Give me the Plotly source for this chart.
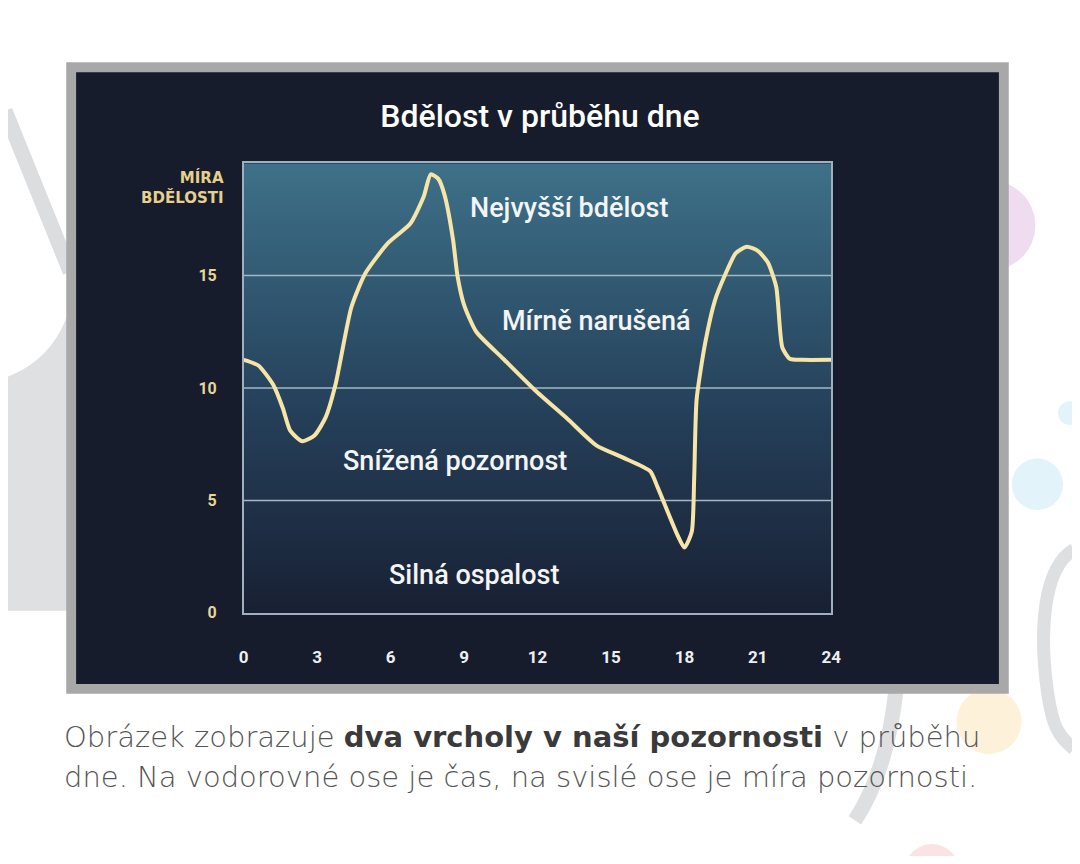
import plotly.graph_objects as go

# stránka má okraj 8 px ze všech stran, obrázek je proto menší a posunutý
OFF = 8
W, H = 1080 - 2 * OFF, 864 - 2 * OFF

# hodnoty (hodina dne, míra bdělosti)
hours = [0.0, 0.6, 1.2, 1.6, 1.9, 2.4, 2.9, 3.35, 3.75, 4.4, 4.97, 5.9, 6.8, 7.35,
         7.64, 7.95, 8.2, 8.55, 8.73, 9.0, 9.5, 10.6, 11.9, 13.2, 14.4, 15.5, 16.6,
         16.9, 17.7, 18.0, 18.3, 18.4, 18.5, 18.85, 19.25, 19.65, 20.1, 20.55, 21.0,
         21.4, 21.75, 22.0, 22.3, 22.8, 24.0]
alertness = [11.25, 11.0, 10.15, 9.1, 8.1, 7.63, 7.9, 8.7, 10.15, 13.6, 15.1, 16.45,
             17.3, 18.5, 19.5, 19.3, 18.6, 16.6, 15.0, 13.7, 12.5, 11.3, 9.9, 8.65,
             7.45, 6.9, 6.3, 5.6, 3.5, 2.9, 3.6, 6.0, 9.5, 12.0, 13.9, 15.0, 16.0,
             16.28, 16.1, 15.6, 14.5, 11.8, 11.3, 11.25, 11.25]

x_ticks = [0, 3, 6, 9, 12, 15, 18, 21, 24]
y_ticks = [0, 5, 10, 15]

zones = ["Nejvyšší bdělost", "Mírně narušená", "Snížená pozornost", "Silná ospalost"]
zone_x = [13.3, 14.4, 8.65, 9.4]
zone_y = [18.0, 13.0, 6.75, 1.7]


def px(x, y):
    # pixel z předlohy -> souřadnice papíru
    return (x - OFF) / W, 1 - (y - OFF) / H


def pt(x, y):
    a, b = px(x, y)
    return f"{a:.5f},{b:.5f}"


fig = go.Figure()

# pozadí grafu s přechodem
fig.add_trace(go.Scatter(
    x=[0, 24, 24, 0, 0], y=[0, 0, 20, 20, 0], mode="lines", fill="toself",
    line=dict(width=0),
    fillgradient=dict(type="vertical",
                      colorscale=[[0, "#182033"], [0.45, "#25405a"], [1, "#3e7189"]]),
    hoverinfo="skip", showlegend=False))

# mřížka
for v in y_ticks[1:]:
    fig.add_trace(go.Scatter(x=[x_ticks[0], x_ticks[-1]], y=[v, v], mode="lines",
                             line=dict(color="#a3b8c6", width=1.5),
                             hoverinfo="skip", showlegend=False))

fig.add_trace(go.Scatter(x=hours, y=alertness, mode="lines",
                         line=dict(color="#f6e5a6", width=4, shape="spline", smoothing=0.6),
                         showlegend=False))

for t, zx, zy in zip(zones, zone_x, zone_y):
    fig.add_annotation(x=zx, y=zy, text=t, showarrow=False,
                       font=dict(family="Roboto", size=27, color="#f2f4f6", weight=500))

shapes = []
# dekorace na bílém pozadí
shapes.append(dict(type="path", xref="paper", yref="paper", layer="below",
                   path=f"M {pt(70, 290)} Q {pt(60, 360)} {pt(0, 382)} L {pt(0, 618)} "
                        f"L {pt(70, 618)} Z",
                   fillcolor="#dfe0e2", line=dict(width=0)))
shapes.append(dict(type="path", xref="paper", yref="paper", layer="below",
                   path=f"M {pt(0, 112)} L {pt(66, 275)}",
                   line=dict(color="#dcdddf", width=15)))
shapes.append(dict(type="path", xref="paper", yref="paper", layer="below",
                   path=f"M {pt(1084, 556)} C {pt(1052, 575)} {pt(1050, 640)} {pt(1056, 690)} "
                        f"S {pt(1070, 745)} {pt(1084, 758)}",
                   line=dict(color="#dedfe0", width=13)))
shapes.append(dict(type="path", xref="paper", yref="paper", layer="below",
                   path=f"M {pt(904, 695)} Q {pt(895, 780)} {pt(862, 830)}",
                   line=dict(color="#dedfe0", width=15)))
for cx, cy, rad, col in [(1000, 228, 45, "#efdcf0"), (1047, 490, 26, "#e3f3fa"),
                         (1080, 418, 12, "#e3f3fa"), (998, 730, 33, "#fdf1d9"),
                         (940, 882, 28, "#fbe3e3")]:
    a0, b0 = px(cx - rad, cy + rad)
    a1, b1 = px(cx + rad, cy - rad)
    shapes.append(dict(type="circle", xref="paper", yref="paper", layer="below",
                       x0=a0, x1=a1, y0=b0, y1=b1, fillcolor=col, line=dict(width=0)))

# rámeček panelu
a0, b0 = px(62, 702)
a1, b1 = px(1018, 63)
shapes.append(dict(type="rect", xref="paper", yref="paper", layer="below",
                   x0=a0, x1=a1, y0=b0, y1=b1, fillcolor="#a8a8a8", line=dict(width=0)))
a0, b0 = px(72, 692)
a1, b1 = px(1008, 73)
shapes.append(dict(type="rect", xref="paper", yref="paper", layer="below",
                   x0=a0, x1=a1, y0=b0, y1=b1, fillcolor="#161c2b", line=dict(width=0)))

a, b = px(224, 168)
fig.add_annotation(xref="paper", yref="paper", x=a, y=b,
                   xanchor="right", yanchor="top", align="right", showarrow=False,
                   text="MÍRA<br>BDĚLOSTI",
                   font=dict(family="DejaVu Sans", size=15, color="#e6d08e", weight=700))

caption = ["Obrázek zobrazuje <b><span style='color:#3a3a3a'>dva vrcholy v naší pozornosti"
           "</span></b> v průběhu",
           "dne. Na vodorovné ose je čas, na svislé ose je míra pozornosti."]
for line, cy in zip(caption, [746, 786]):
    a, b = px(58, cy)
    fig.add_annotation(xref="paper", yref="paper", x=a, y=b,
                       xanchor="left", yanchor="middle", align="left", showarrow=False,
                       text=line,
                       font=dict(family="DejaVu Sans", size=29, color="#555555", weight=200))

fig.update_layout(
    width=W, height=H,
    margin=dict(l=0, r=0, t=0, b=0),
    paper_bgcolor="white",
    plot_bgcolor="rgba(0,0,0,0)",
    shapes=shapes,
    title=dict(text="Bdělost v průběhu dne", x=px(540, 0)[0], xanchor="center",
               y=px(0, 116)[1], yanchor="middle",
               font=dict(family="Roboto", size=32, color="#ffffff", weight=500)),
    xaxis=dict(domain=[px(242, 0)[0], px(838, 0)[0]], range=[0, 24], tickvals=x_ticks,
               showgrid=False, zeroline=False, showline=True, mirror=True,
               linecolor="#9fb0bf", linewidth=1.5,
               ticks="outside", ticklen=28, tickcolor="rgba(0,0,0,0)",
               tickfont=dict(family="Roboto", size=17, color="#eceff2", weight=700)),
    yaxis=dict(domain=[px(0, 620)[1], px(0, 165)[1]], range=[0, 20], tickvals=y_ticks,
               showgrid=False, zeroline=False, showline=True, mirror=True,
               linecolor="#9fb0bf", linewidth=1.5,
               ticks="outside", ticklen=22, tickcolor="rgba(0,0,0,0)",
               tickfont=dict(family="Roboto", size=16, color="#e6d69a", weight=700)),
)

fig.write_html("out.html")
